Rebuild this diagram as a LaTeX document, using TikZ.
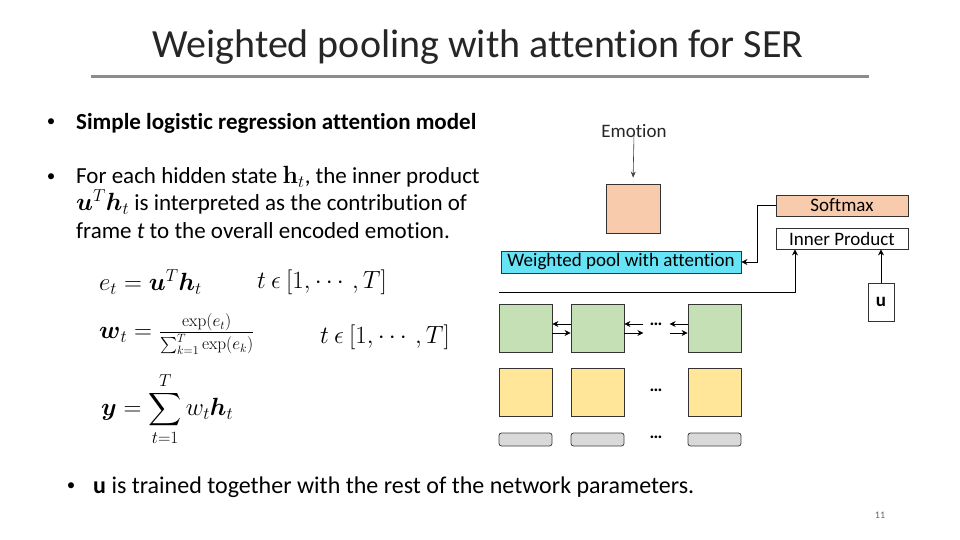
\documentclass[tikz,border=0pt]{standalone}
\usepackage{amsmath,amssymb}
\usepackage[no-math]{fontspec}
\setmainfont{Carlito}[Ligatures=NoCommon]
\usetikzlibrary{arrows.meta,positioning}
\definecolor{salmonc}{HTML}{F8CBAD}
\definecolor{cyanc}{HTML}{66E3F5}
\definecolor{greenc}{HTML}{C5E0B4}
\definecolor{yellowc}{HTML}{FFE699}
\definecolor{framec}{HTML}{D9D9D9}
\definecolor{rulec}{HTML}{8C8C8C}
\definecolor{textc}{HTML}{262626}
\tikzset{
  bodytext/.style={anchor=west, inner sep=0, text=black, font=\fontsize{23}{27.5}\selectfont},
  bulletdot/.style={anchor=center, inner sep=0, font=\fontsize{17}{20}\selectfont},
  mathtext/.style={anchor=west, inner sep=0, font=\fontsize{23}{27}\selectfont},
  cellnode/.style={rectangle, draw=black!80, line width=0.8pt, minimum width=53,
    minimum height=48, inner sep=0},
  hiddennode/.style={cellnode, fill=greenc},
  featnode/.style={cellnode, fill=yellowc},
  framenode/.style={rectangle, rounded corners=2.5pt, draw=black!75, line width=0.8pt,
    fill=framec, minimum width=53, minimum height=13, inner sep=0},
  barnode/.style={rectangle, draw=black!80, line width=0.8pt, minimum width=132,
    minimum height=21, inner sep=0, font=\fontsize{19}{20}\selectfont},
  dotsnode/.style={minimum width=26, inner sep=0, font=\fontsize{18}{20}\selectfont\bfseries},
  labelnode/.style={inner sep=0, font=\fontsize{19}{20}\selectfont, text=textc},
  normaledge/.style={-{Stealth[length=6, width=6]}, draw=black, line width=0.8pt},
  thinedge/.style={-{Stealth[length=6, width=5]}, draw=black!75, line width=0.6pt},
}
\begin{document}
\begin{tikzpicture}[x=1pt, y=-1pt]
  \useasboundingbox (0,0) rectangle (960,540);
  \node[font=\fontsize{40}{46}\selectfont, text=textc, inner sep=0] (title) at (478,47)
    {Weighted pooling with attention for SER};
  \draw[rulec, line width=3pt] (91,77) -- (869,77);

  \node[bulletdot] (b1) at (51,123) {•};
  \node[bodytext] (t1) at (76,123) {\textbf{Simple logistic regression attention model}};
  \node[bulletdot] (b2) at (51,178) {•};
  \node[bodytext, anchor=north west, align=left] (t2) at (76,166)
    {For each hidden state $\mathbf{h}_t$, the inner product\\
     $\boldsymbol{u}^T\boldsymbol{h}_t$ is interpreted as the contribution of\\
     frame \textit{t} to the overall encoded emotion.};

  \node[mathtext] (eq1) at (99,282) {$e_t = \boldsymbol{u}^T\boldsymbol{h}_t$};
  \node[mathtext] (rg1) at (257,282) {$t\ \epsilon\ [1,\cdots,T]$};
  \node[mathtext] (eq2) at (99,334)
    {$\boldsymbol{w}_t = \frac{\exp(e_t)}{\sum_{k=1}^{T}\exp(e_k)}$};
  \node[mathtext] (rg2) at (320,337) {$t\ \epsilon\ [1,\cdots,T]$};
  \node[mathtext] (eq3) at (101,409)
    {$\boldsymbol{y} = \displaystyle\sum_{t=1}^{T} w_t\boldsymbol{h}_t$};

  \node[bulletdot] (b3) at (71,487) {•};
  \node[bodytext, font=\fontsize{24}{28}\selectfont] (t3) at (93,487)
    {\textbf{u} is trained together with the rest of the network parameters.};
  \node[inner sep=0, font=\fontsize{10}{12}\selectfont, text=black!60] (page) at (880,515) {11};

  \node[labelnode] (emotion) at (634,131) {Emotion};
  \node[cellnode, fill=salmonc, minimum width=54, minimum height=49] (emo) at (633,208.5) {};
  \node[barnode, fill=salmonc] (soft) at (842,205.5) {Softmax};
  \node[barnode, fill=white] (inner) at (842,238.5) {Inner Product};
  \node[barnode, fill=cyanc, minimum width=240, minimum height=22] (wpool) at (621,262)
    {Weighted pool with attention};
  \node[barnode, fill=white, minimum width=26, minimum height=38,
    font=\fontsize{19}{20}\selectfont\bfseries] (u) at (881,302) {u};

  \node[hiddennode] (h1) at (525.5,328) {};
  \node[hiddennode] (h2) at (597.5,328) {};
  \node[dotsnode] (hd) at (656,324) {…};
  \node[hiddennode] (h3) at (714.5,328) {};
  \node[featnode] (f1) at (525.5,392.5) {};
  \node[featnode] (f2) at (597.5,392.5) {};
  \node[dotsnode] (fd) at (656,390) {…};
  \node[featnode] (f3) at (714.5,392.5) {};
  \node[framenode] (x1) at (525.5,439.5) {};
  \node[framenode] (x2) at (597.5,439.5) {};
  \node[dotsnode] (xd) at (656,437) {…};
  \node[framenode] (x3) at (714.5,439.5) {};
  \coordinate (tap) at (499,292);

  \draw[thinedge, shorten >=6pt] (emotion.south) ++(0,-4) -- (emo.north);
  \draw[normaledge] (soft.west) -- ++(-18,0) |- (wpool.east);
  \draw[normaledge] (tap) -| ([xshift=-47pt]inner.south);
  \draw[normaledge] (u.north) -- (inner.south -| u.north);
  \draw[normaledge] ([yshift=4pt]h2.west) -- ([yshift=4pt]h1.east);
  \draw[normaledge] ([yshift=-5pt]h1.east) -- ([yshift=-5pt]h2.west);
  \draw[normaledge] ([yshift=4pt]h2.east) ++(19,0) -- ([yshift=4pt]h2.east);
  \draw[normaledge] ([yshift=-5pt]h2.east) -- ++(19,0);
  \draw[normaledge] ([yshift=4pt]h3.west) -- ++(-18,0);
  \draw[normaledge] ([yshift=-5pt]h3.west) ++(-18,0) -- ([yshift=-5pt]h3.west);
\end{tikzpicture}
\end{document}
